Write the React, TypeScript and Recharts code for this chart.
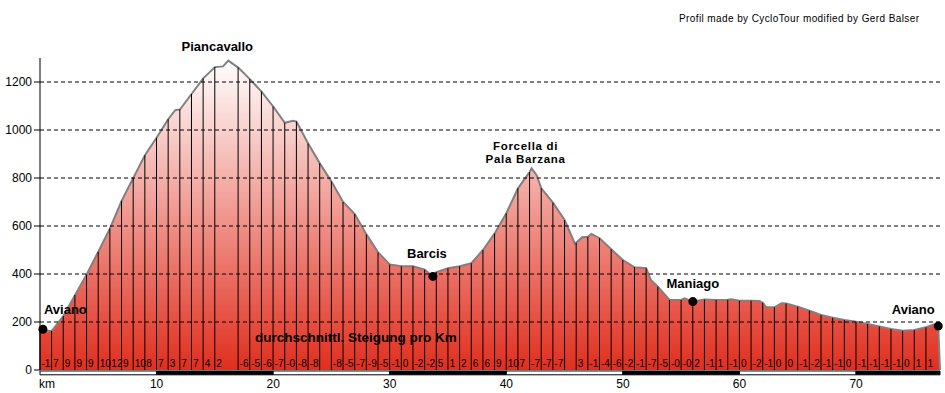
import {
  Area,
  Bar,
  ComposedChart,
  LabelList,
  ReferenceArea,
  ReferenceLine,
  Scatter,
  XAxis,
  YAxis,
} from "recharts"

// elevation profile, km -> metres
const PROFILE_KM = [
  0, 0.6, 1, 2, 3, 4, 5, 6, 7, 8, 9, 10, 11, 11.6, 12, 13, 14, 15, 15.7, 16.15, 17, 18, 19, 20, 21,
  21.7, 22, 23, 24, 25, 26, 27, 28, 29, 30, 31, 32, 33, 33.7, 34, 35, 36, 37, 38, 39, 40, 41, 41.7,
  42, 42.17, 42.6, 43, 44, 45, 45.9, 46, 46.5, 47, 47.3, 48, 49, 50, 51, 52, 52.4, 53, 54, 55, 55.3,
  56, 57, 58, 59, 59.3, 60, 61, 61.7, 62, 62.3, 63, 63.6, 64, 65, 66, 67, 68, 69, 70, 71, 72, 73, 74,
  75, 76, 76.7, 77.05, 77.2,
]
const PROFILE_ELEV = [
  172, 162, 162, 225, 312, 398, 493, 590, 705, 800, 895, 968, 1045, 1083, 1085, 1150, 1215, 1262,
  1265, 1289, 1260, 1212, 1160, 1098, 1030, 1038, 1035, 944, 861, 785, 700, 650, 565, 490, 440, 432,
  432, 418, 390, 408, 424, 432, 445, 500, 569, 653, 757, 805, 825, 840, 812, 757, 697, 625, 524, 530,
  553, 555, 567, 549, 503, 458, 428, 424, 375, 347, 292, 292, 299, 285, 294, 292, 293, 295, 289, 289,
  288, 280, 261, 261, 278, 277, 264, 247, 229, 218, 208, 201, 192, 181, 171, 164, 167, 178, 190, 183,
  0,
]

// average gradient per km (km 0..76), as printed under the profile
const GRADIENT_LABELS = [
  "-1", "7", "9", "9", "9", "10", "12", "9", "10", "8",
  "7", "3", "7", "7", "4", "2", "-3", "-6", "-5", "-6",
  "-7", "-0", "-8", "-8", "", "-8", "-5", "-7", "-9", "-5",
  "-1", "0", "-2", "-2", "5", "1", "2", "6", "6", "9",
  "10", "7", "-7", "-7", "-7", "", "3", "-1", "-4", "-6",
  "-2", "-1", "-7", "-5", "-0", "-0", "2", "-1", "1", "-1",
  "0", "-2", "-1", "0", "0", "-1", "-2", "-1", "-1", "0",
  "-1", "-1", "-1", "-1", "0", "1", "1",
]

const Y_TICKS = [0, 200, 400, 600, 800, 1000, 1200]
const X_TICKS = [0, 10, 20, 30, 40, 50, 60, 70]
const X_BANDS = [0, 10, 20, 30, 40, 50, 60, 70, 77.2]

const TOWNS = [
  { name: "Aviano", km: 0.25, elev: 170 },
  { name: "Barcis", km: 33.7, elev: 390 },
  { name: "Maniago", km: 56, elev: 285 },
  { name: "Aviano", km: 77.05, elev: 183 },
]
const PEAKS = [
  { name: ["Piancavallo"], km: 16.15, elev: 1289 },
  { name: ["Forcella di", "Pala Barzana"], km: 42.17, elev: 840 },
]

// label placement next to each marker (px)
const TOWN_LABEL_POS: [number, number, "start" | "middle"][] = [
  [1, -15, "start"],
  [-6, -18, "middle"],
  [0, -14, "middle"],
  [-25, -12, "middle"],
]
const PEAK_LABEL_POS: [number, number][] = [
  [-11, -10],
  [-6, -5.5],
]

const FONT = "'Liberation Sans', Arial, sans-serif"

const rows = PROFILE_KM.map((km, i) => {
  const whole = Number.isInteger(km) && km < 77
  return {
    km,
    elev: PROFILE_ELEV[i],
    line: whole ? PROFILE_ELEV[i] : null,
    grad: whole ? GRADIENT_LABELS[km] : null,
  }
})

function XTick(props: any) {
  const { x, y, payload } = props
  const first = payload.value === 0
  return (
    <text
      x={first ? x - 1 : x}
      y={y + 10}
      textAnchor={first ? "start" : "middle"}
      fontFamily={FONT}
      fontSize={12}
      fill="#000"
    >
      {first ? "km" : payload.value}
    </text>
  )
}

function GradLabel(props: any) {
  const { x, y, width, height, value } = props
  if (value == null || value === "") return null
  return (
    <text x={x + width + 1} y={y + height - 3.5} fontFamily={FONT} fontSize={10} fill="#000">
      {value}
    </text>
  )
}

function TownShape(props: any) {
  const { cx, cy, payload } = props
  const idx = TOWNS.findIndex((t) => t.km === payload.km)
  const [dx, dy, anchor] = TOWN_LABEL_POS[idx]
  return (
    <g>
      <circle cx={cx} cy={cy} r={4.5} fill="#000" />
      <text
        x={cx + dx}
        y={cy + dy}
        textAnchor={anchor}
        fontFamily={FONT}
        fontWeight="bold"
        fontSize={13}
        fill="#000"
      >
        {payload.name}
      </text>
    </g>
  )
}

function PeakShape(props: any) {
  const { cx, cy, payload } = props
  const idx = PEAKS.findIndex((p) => p.km === payload.km)
  const [dx, dy] = PEAK_LABEL_POS[idx]
  const lines: string[] = payload.name
  const multi = lines.length > 1
  return (
    <g>
      {lines.map((l, i) => (
        <text
          key={i}
          x={cx + dx}
          y={cy + dy + (i - lines.length + 1) * 12.5}
          textAnchor="middle"
          fontFamily={FONT}
          fontWeight="bold"
          fontSize={multi ? 11.5 : 13}
          letterSpacing={multi ? 0.7 : 0}
          fill="#000"
        >
          {l}
        </text>
      ))}
    </g>
  )
}

export default function App() {
  return (
    <div style={{ position: "absolute", left: 0, top: 0, width: 945, height: 393, background: "#fff" }}>
      <ComposedChart width={945} height={393} data={rows} margin={{ top: 58, right: 5, bottom: 0, left: 0 }}>
        <defs>
          <linearGradient id="profileFill" x1="0" y1="0" x2="0" y2="1">
            <stop offset="0%" stopColor="#ffffff" />
            <stop offset="100%" stopColor="#e12e1e" />
          </linearGradient>
        </defs>
        <XAxis
          dataKey="km"
          type="number"
          domain={[0, 77.2]}
          ticks={X_TICKS}
          interval={0}
          axisLine={false}
          tickLine={false}
          height={23}
          tick={<XTick />}
        />
        <YAxis
          type="number"
          domain={[0, 1300]}
          ticks={Y_TICKS}
          interval={0}
          width={40}
          axisLine={{ stroke: "#000" }}
          tickLine={{ stroke: "#000" }}
          tickSize={6}
          tickMargin={2}
          tick={{ fill: "#000", fontSize: 12, fontFamily: FONT }}
        />
        <Area
          type="linear"
          dataKey="elev"
          stroke="#808080"
          strokeWidth={2}
          fill="url(#profileFill)"
          fillOpacity={1}
          isAnimationActive={false}
        />
        <Bar dataKey="line" barSize={1} fill="#000" isAnimationActive={false}>
          <LabelList dataKey="grad" content={GradLabel} />
        </Bar>
        {Y_TICKS.filter((t) => t > 0).map((t) => (
          <ReferenceLine key={t} y={t} stroke="#000" strokeDasharray="4 3" />
        ))}
        {X_BANDS.slice(0, -1).map((b, i) => (
          <ReferenceArea
            key={b}
            x1={b}
            x2={X_BANDS[i + 1]}
            y1={-4}
            y2={-20}
            ifOverflow="visible"
            fill={i % 2 ? "#000" : "#fff"}
            fillOpacity={1}
            stroke="#000"
            strokeOpacity={1}
          />
        ))}
        <Scatter data={TOWNS} dataKey="elev" shape={TownShape} isAnimationActive={false} />
        <Scatter data={PEAKS} dataKey="elev" shape={PeakShape} isAnimationActive={false} />
      </ComposedChart>
      <svg
        width={945}
        height={393}
        style={{ position: "absolute", left: 0, top: 0, pointerEvents: "none" }}
      >
        <text x={679} y={21.5} fontFamily={FONT} fontSize={10} letterSpacing={0.4} fill="#000">
          Profil made by CycloTour modified by Gerd Balser
        </text>
        <text x={255} y={341.5} fontFamily={FONT} fontWeight="bold" fontSize={13.5} fill="#000">
          durchschnittl. Steigung pro Km
        </text>
      </svg>
    </div>
  )
}
